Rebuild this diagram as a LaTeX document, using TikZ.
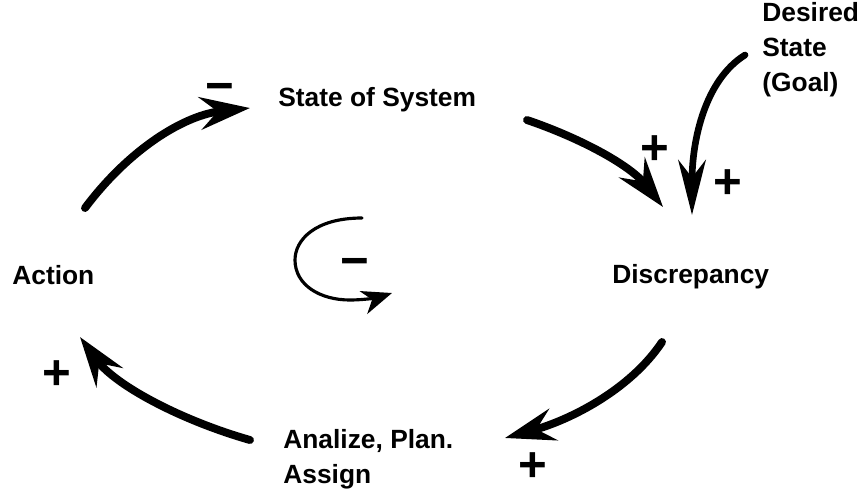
\documentclass[tikz,border=0pt]{standalone}
\usepackage{fontspec}
\setmainfont{Liberation Sans}
\usetikzlibrary{arrows.meta}
\begin{document}
\begin{tikzpicture}[
  x=0.02cm,y=-0.02cm,
  lbl/.style={font=\bfseries\fontsize{15}{19.8}\selectfont,inner sep=0pt,align=left},
  sgn/.style={font=\bfseries\fontsize{28}{28}\selectfont,inner sep=0pt},
  loopline/.style={line width=4.5pt,line cap=round,-{Stealth[length=10mm,width=6.5mm,inset=3.5mm]}},
  goalline/.style={line width=3.8pt,line cap=round,-{Stealth[length=11mm,width=5.5mm,inset=3.5mm]}},
  innerline/.style={line width=1.8pt,line cap=round,-{Stealth[length=6mm,width=4.8mm,inset=1.8mm]}}
]
\useasboundingbox (0,0) rectangle (864,498);
% labels
\node[lbl,anchor=west] (sos) at (278,100) {State of System};
\node[lbl,anchor=west] (dis) at (612,277) {Discrepancy};
\node[lbl,anchor=west] (act) at (12,275) {Action};
\node[lbl,anchor=north west] (apa) at (283,429) {Analize, Plan.\\Assign};
\node[lbl,anchor=north west] (goal) at (762,2) {Desired\\State\\(Goal)};
% signs
\node[sgn] (mtop) at (220,93) {−};
\node[sgn] (mmid) at (355,268) {−};
\node[sgn] (pdis) at (655,150) {+};
\node[sgn] (pgoal) at (728,184) {+};
\node[sgn] (papa) at (533,467) {+};
\node[sgn] (pact) at (57,375) {+};
% arc ends
\coordinate (actA) at (85,208);
\coordinate (sosA) at (250,108);
\coordinate (sosB) at (527,120);
\coordinate (disA) at (663,207);
\coordinate (disB) at (662,342);
\coordinate (apaA) at (505,438);
\coordinate (apaB) at (250,440);
\coordinate (actB) at (80,337);
\coordinate (goalA) at (745,55);
\coordinate (goalB) at (692,215);
\coordinate (inA) at (362,218);
\coordinate (inB) at (392,293);
% loop
\draw[loopline] (actA) .. controls (130,148) and (185,115) .. (sosA);
\draw[loopline] (sosB) .. controls (580,138) and (630,165) .. (disA);
\draw[loopline] (disB) .. controls (630,390) and (570,420) .. (apaA);
\draw[loopline] (apaB) .. controls (180,420) and (115,385) .. (actB);
\draw[goalline] (goalA) .. controls (705,80) and (692,140) .. (goalB);
\draw[innerline] (inA) .. controls (315,218) and (295,240) .. (295,260)
  .. controls (295,285) and (320,300) .. (350,300)
  .. controls (365,300) and (380,297) .. (inB);
\end{tikzpicture}
\end{document}
